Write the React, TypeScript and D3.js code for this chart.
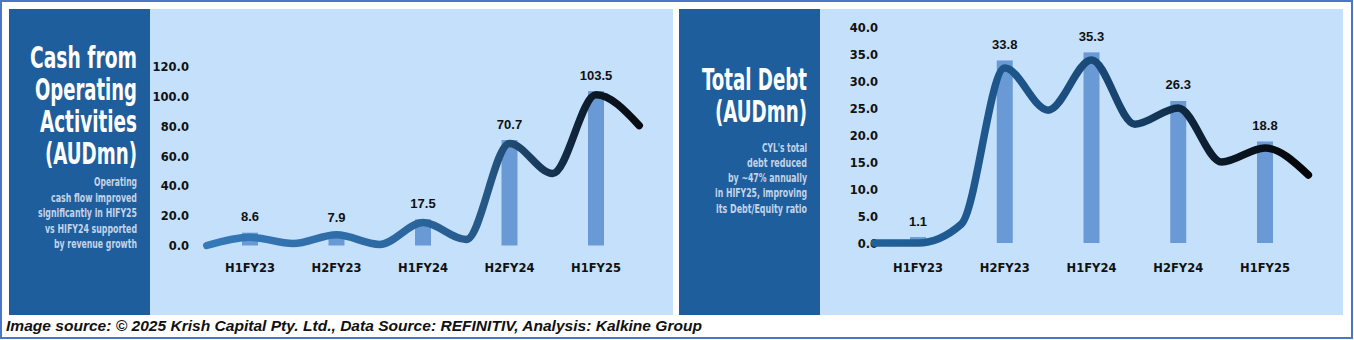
import React from "react";
import * as d3 from "d3";

const categories = ["H1FY23", "H2FY23", "H1FY24", "H2FY24", "H1FY25"];
const cashValues = [8.6, 7.9, 17.5, 70.7, 103.5];
const debtValues = [1.1, 33.8, 35.3, 26.3, 18.8];
const wavePositions = [-0.5, 0, 0.5, 1, 1.5, 2, 2.5, 3, 3.5, 4, 4.5];
const cashWave = [0, 5.5, 1.3, 7.2, 0.7, 15.4, 4, 68.4, 48.3, 101, 80.4];
const debtWave = [0, 0, 3.5, 32.4, 24.6, 33.9, 22, 25, 15, 17.6, 12.6];
const cashTicks = [0, 20, 40, 60, 80, 100, 120];
const debtTicks = [0, 5, 10, 15, 20, 25, 30, 35, 40];
const cashTitle = ["Cash from", "Operating", "Activities", "(AUDmn)"];
const cashNote = ["Operating", "cash flow improved", "significantly in HIFY25", "vs HIFY24 supported", "by revenue growth"];
const debtTitle = ["Total Debt", "(AUDmn)"];
const debtNote = ["CYL's total", "debt reduced", "by ~47% annually", "in HIFY25, improving", "its Debt/Equity ratio"];
const footer = "Image source: \u00A9 2025 Krish Capital Pty. Ltd., Data Source: REFINITIV, Analysis: Kalkine Group";

const DARK = "#1F5E9C";
const LIGHT = "#C5E0FA";
const BAR = "#6A9AD6";
const NOTE = "#C3D3E8";
const NARROW = "'Liberation Sans Narrow', 'DejaVu Sans Condensed', 'Roboto Condensed', sans-serif";
const AXISFONT = "'DejaVu Sans', Verdana, sans-serif";

type PanelProps = {
  id: string;
  darkX: number;
  lightX1: number;
  titleRight: number;
  title: string[];
  titleBaselines: number[];
  titleWidths: number[];
  note: string[];
  noteBaselines: number[];
  noteWidths: number[];
  values: number[];
  wave: number[];
  ticks: number[];
  yDomain: [number, number];
  yRange: [number, number];
  xRange: [number, number];
  tickRight: number;
  stops: [number, string][];
};

function Panel(p: PanelProps) {
  const x = d3.scaleLinear().domain([0, categories.length - 1]).range(p.xRange);
  const y = d3.scaleLinear().domain(p.yDomain).range(p.yRange);
  const line = d3
    .line<number>()
    .x((_, i) => x(wavePositions[i]))
    .y((d) => y(d))
    .curve(d3.curveMonotoneX);
  const path = line(p.wave) || "";
  const barW = 16;
  const fmt = d3.format(".1f");
  const gx1 = x(wavePositions[0]);
  const gx2 = x(wavePositions[wavePositions.length - 1]);
  return (
    <g>
      <defs>
        <linearGradient id={p.id} gradientUnits="userSpaceOnUse" x1={gx1} x2={gx2} y1={0} y2={0}>
          {p.stops.map(([o, c], i) => (
            <stop key={i} offset={o} stopColor={c} />
          ))}
        </linearGradient>
      </defs>
      <rect x={p.darkX} y={9} width={141} height={306} fill={DARK} />
      <rect x={p.darkX + 141} y={9} width={p.lightX1 - p.darkX - 141} height={306} fill={LIGHT} />
      {p.title.map((t, i) => (
        <text
          key={t}
          transform={`translate(${p.titleRight - p.titleWidths[i]},${p.titleBaselines[i]}) scale(1,1.45)`}
          x={0}
          y={0}
          fill="#ffffff"
          fontFamily={NARROW}
          fontWeight="bold"
          fontSize={20.5}
          textLength={p.titleWidths[i]}
          lengthAdjust="spacingAndGlyphs"
        >
          {t}
        </text>
      ))}
      {p.note.map((t, i) => (
        <text
          key={t}
          transform={`translate(${p.titleRight - p.noteWidths[i]},${p.noteBaselines[i]}) scale(1,1.35)`}
          x={0}
          y={0}
          fill={NOTE}
          fontFamily={NARROW}
          fontWeight="bold"
          fontSize={8.8}
          textLength={p.noteWidths[i]}
          lengthAdjust="spacingAndGlyphs"
        >
          {t}
        </text>
      ))}
      {p.ticks.map((t) => (
        <text
          key={t}
          x={p.tickRight}
          y={y(t) + 4.5}
          textAnchor="end"
          fill="#111"
          fontFamily={AXISFONT}
          fontWeight="bold"
          fontSize={11.5}
        >
          {fmt(t)}
        </text>
      ))}
      {p.values.map((v, i) => (
        <rect key={i} x={x(i) - barW / 2} y={y(v)} width={barW} height={y(0) - y(v)} fill={BAR} />
      ))}
      <path d={path} fill="none" stroke={`url(#${p.id})`} strokeWidth={7.5} strokeLinecap="round" strokeLinejoin="round" />
      {p.values.map((v, i) => (
        <text
          key={i}
          x={x(i)}
          y={y(v) - 11.5}
          textAnchor="middle"
          fill="#111"
          fontFamily="'Liberation Sans', Arial, sans-serif"
          fontWeight="bold"
          fontSize={13}
        >
          {fmt(v)}
        </text>
      ))}
      {categories.map((c, i) => (
        <text
          key={c}
          x={x(i)}
          y={271.5}
          textAnchor="middle"
          fill="#111"
          fontFamily={AXISFONT}
          fontWeight="bold"
          fontSize={11.5}
        >
          {c}
        </text>
      ))}
    </g>
  );
}

export default function App() {
  return (
    <svg width={1354} height={340} style={{ position: "absolute", left: 0, top: 0 }}>
      <rect x={0} y={0} width={1354} height={340} fill="#ffffff" />
      <rect x={1} y={1} width={1351} height={337} fill="none" stroke="#4A78C8" strokeWidth={2} />
      <Panel
        id="gCash"
        darkX={9}
        lightX1={673}
        titleRight={137}
        title={cashTitle}
        titleBaselines={[68, 100, 132, 164]}
        titleWidths={[107, 102, 97, 92]}
        note={cashNote}
        noteBaselines={[186, 202, 217, 233, 248]}
        noteWidths={[43, 86, 99, 92, 83]}
        values={cashValues}
        wave={cashWave}
        ticks={cashTicks}
        yDomain={[0, 120]}
        yRange={[245.5, 66.5]}
        xRange={[250, 596]}
        tickRight={189}
        stops={[
          [0, "#3579B8"],
          [0.45, "#2C67A0"],
          [0.65, "#255784"],
          [0.8, "#153352"],
          [0.9, "#0B1726"],
          [1, "#080C12"],
        ]}
      />
      <Panel
        id="gDebt"
        darkX={679}
        lightX1={1343}
        titleRight={807}
        title={debtTitle}
        titleBaselines={[90, 122]}
        titleWidths={[105, 92]}
        note={debtNote}
        noteBaselines={[152, 167, 182, 197, 213]}
        noteWidths={[45, 60, 79, 92, 91]}
        values={debtValues}
        wave={debtWave}
        ticks={debtTicks}
        yDomain={[0, 40]}
        yRange={[243, 27]}
        xRange={[918, 1265]}
        tickRight={878}
        stops={[
          [0, "#21609A"],
          [0.35, "#1D5488"],
          [0.5, "#1A4A78"],
          [0.62, "#163D62"],
          [0.7, "#102A44"],
          [0.82, "#0A1622"],
          [1, "#050507"],
        ]}
      />
      <text
        x={6}
        y={331}
        fill="#111"
        fontFamily="'Liberation Sans', Arial, sans-serif"
        fontWeight="bold"
        fontStyle="italic"
        fontSize={14}
        textLength={696}
        lengthAdjust="spacingAndGlyphs"
      >
        {footer}
      </text>
    </svg>
  );
}
